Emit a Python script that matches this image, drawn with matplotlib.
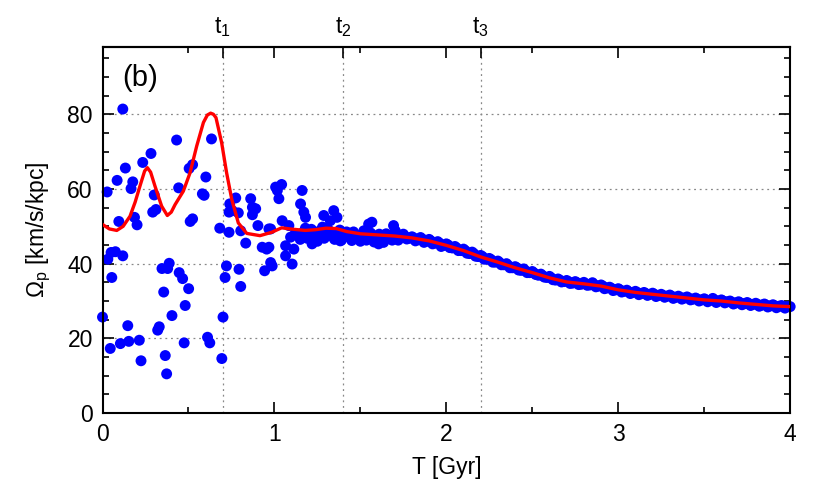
import numpy as np
import matplotlib
matplotlib.use('Agg')
import matplotlib.pyplot as plt
from matplotlib.ticker import MultipleLocator

plt.rcParams['font.family'] = ['Liberation Sans', 'DejaVu Sans']
plt.rcParams['mathtext.fontset'] = 'custom'
plt.rcParams['mathtext.rm'] = 'Liberation Sans'
plt.rcParams['mathtext.it'] = 'Liberation Sans'

# scattered pattern speed measurements (early, noisy phase)
t_early = [0.00, 0.027, 0.031, 0.045, 0.050, 0.054, 0.075, 0.085, 0.095, 0.104,
           0.118, 0.118, 0.133, 0.147, 0.153, 0.166, 0.176, 0.186, 0.201, 0.214,
           0.224, 0.234, 0.282, 0.292, 0.301, 0.311, 0.321, 0.330, 0.346, 0.356,
           0.365, 0.373, 0.379, 0.388, 0.404, 0.431, 0.443, 0.446, 0.466, 0.475,
           0.481, 0.501, 0.504, 0.510, 0.524, 0.524, 0.581, 0.591, 0.601, 0.611,
           0.624, 0.634, 0.682, 0.694, 0.701, 0.713, 0.721, 0.736, 0.736, 0.740,
           0.755, 0.775, 0.790, 0.794, 0.804, 0.804, 0.833, 0.862, 0.872, 0.872,
           0.891, 0.904, 0.929, 0.943, 0.955, 0.968, 0.968, 0.978, 0.978, 0.987,
           1.007, 1.017, 1.026, 1.042, 1.045, 1.065, 1.065, 1.084, 1.094, 1.103,
           1.113, 1.142, 1.152, 1.161, 1.171, 1.181, 1.210, 1.219, 1.268, 1.287,
           1.325, 1.345, 1.364, 1.383, 1.451, 1.548, 1.567, 1.606, 1.635, 1.693,
           1.703]
om_early = [25.7, 59.2, 41.2, 17.3, 43.0, 36.3, 43.2, 62.3, 51.3, 18.6,
            81.4, 42.1, 65.6, 23.4, 19.2, 60.1, 61.9, 52.4, 50.4, 19.5,
            14.0, 67.1, 69.5, 53.8, 58.4, 54.5, 22.2, 23.1, 38.7, 32.4,
            15.4, 10.5, 38.7, 40.1, 26.1, 73.1, 60.3, 37.6, 36.0, 18.8,
            28.8, 33.3, 65.5, 51.3, 66.5, 52.0, 58.7, 58.3, 63.2, 20.3,
            18.8, 73.4, 49.5, 14.6, 25.7, 36.3, 39.4, 53.8, 48.4, 56.0,
            54.2, 57.6, 53.6, 38.5, 48.8, 33.9, 45.5, 57.4, 55.1, 53.1,
            54.7, 50.2, 44.4, 38.1, 43.9, 49.3, 44.4, 49.3, 40.3, 39.4,
            60.5, 59.6, 57.4, 61.2, 51.5, 44.8, 42.1, 50.2, 47.1, 39.9,
            43.9, 47.5, 56.0, 59.6, 53.8, 52.4, 46.6, 45.3, 47.9, 52.9,
            51.5, 54.2, 52.4, 46.1, 46.6, 50.6, 51.1, 45.3, 45.7, 50.2,
            48.8]

# settled phase: points hugging the mean curve
t_band = [1.12, 1.15, 1.18, 1.20, 1.23, 1.25, 1.28, 1.30, 1.33, 1.35,
          1.38, 1.40, 1.42, 1.45, 1.47, 1.50, 1.52, 1.55, 1.58, 1.60,
          1.62, 1.65, 1.67, 1.70, 1.72, 1.75, 1.77, 1.80, 1.82, 1.85,
          1.87, 1.90, 1.92, 1.95, 1.97, 2.00, 2.02, 2.05, 2.07, 2.10,
          2.12, 2.15, 2.17, 2.20, 2.22, 2.25, 2.27, 2.30, 2.32, 2.35,
          2.37, 2.40, 2.42, 2.45, 2.47, 2.50, 2.52, 2.55, 2.57, 2.60,
          2.62, 2.65, 2.67, 2.70, 2.72, 2.75, 2.77, 2.80, 2.82, 2.85,
          2.87, 2.90, 2.92, 2.95, 2.97, 3.00, 3.02, 3.05, 3.07, 3.10,
          3.12, 3.15, 3.17, 3.20, 3.22, 3.25, 3.27, 3.30, 3.32, 3.35,
          3.37, 3.40, 3.42, 3.45, 3.47, 3.50, 3.52, 3.55, 3.57, 3.60,
          3.62, 3.65, 3.67, 3.70, 3.72, 3.75, 3.77, 3.80, 3.82, 3.85,
          3.87, 3.90, 3.92, 3.95, 3.97, 4.00]
om_band = [48.0, 46.5, 49.5, 47.0, 48.5, 46.0, 49.8, 47.5, 48.0, 46.5,
           49.0, 47.0, 48.5, 46.2, 47.8, 46.0, 48.8, 47.0, 45.8, 47.5,
           46.5, 48.0, 46.8, 47.8, 46.3, 47.9, 46.6, 47.2, 46.1, 47.0,
           45.7, 46.5, 45.3, 45.9, 44.6, 45.3, 44.3, 44.6, 43.5, 43.9,
           42.8, 43.1, 42.0, 42.2, 41.2, 41.4, 40.4, 40.7, 39.7, 40.0,
           38.9, 39.2, 38.3, 38.6, 37.6, 37.9, 37.1, 37.2, 36.4, 36.6,
           35.7, 35.9, 35.1, 35.5, 34.7, 35.2, 34.4, 35.0, 34.2, 34.9,
           33.8, 34.3, 33.3, 33.7, 32.8, 33.3, 32.4, 32.9, 32.0, 32.6,
           31.7, 32.3, 31.5, 32.1, 31.2, 31.8, 31.0, 31.6, 30.7, 31.3,
           30.5, 31.1, 30.3, 30.8, 30.0, 30.6, 29.8, 30.7, 29.6, 30.3,
           29.5, 30.0, 29.2, 29.8, 29.0, 29.6, 28.8, 29.4, 28.6, 29.2,
           28.4, 29.0, 28.2, 28.8, 28.1, 28.5]

# more settled-phase points between the ones above
t_band2 = [1.135, 1.165, 1.19, 1.215, 1.24, 1.265, 1.29, 1.315, 1.34, 1.365,
           1.39, 1.41, 1.435, 1.46, 1.485, 1.51, 1.535, 1.56, 1.585, 1.61,
           1.635, 1.66, 1.685, 1.71, 1.735, 1.76, 1.785, 1.81, 1.835, 1.86,
           1.885, 1.91, 1.935, 1.96, 1.985, 2.01, 2.035, 2.06, 2.085, 2.11,
           2.135, 2.16, 2.185, 2.21, 2.235, 2.26, 2.285, 2.31, 2.335, 2.36,
           2.385, 2.41, 2.435, 2.46, 2.485, 2.51, 2.535, 2.56, 2.585, 2.61,
           2.635, 2.66, 2.685, 2.71, 2.735, 2.76, 2.785, 2.81, 2.835, 2.86,
           2.885, 2.91, 2.935, 2.96, 2.985, 3.01, 3.035, 3.06, 3.085, 3.11,
           3.135, 3.16, 3.185, 3.21, 3.235, 3.26, 3.285, 3.31, 3.335, 3.36,
           3.385, 3.41, 3.435, 3.46, 3.485, 3.51, 3.535, 3.56, 3.585, 3.61,
           3.635, 3.66, 3.685, 3.71, 3.735, 3.76, 3.785, 3.81, 3.835, 3.86,
           3.885, 3.91, 3.935, 3.96, 3.985]
om_band2 = [47.8, 48.3, 46.8, 49.2, 47.5, 48.8, 46.8, 49.0, 47.2, 48.2,
            46.3, 48.0, 47.2, 48.5, 46.8, 47.5, 46.3, 48.2, 46.8, 47.9,
            46.4, 47.2, 46.3, 47.4, 47.2, 47.3, 46.8, 46.9, 46.4, 46.6,
            46.0, 46.1, 45.5, 45.5, 44.9, 45.0, 44.2, 44.2, 43.5, 43.5,
            42.7, 42.7, 41.9, 41.9, 41.2, 41.1, 40.4, 40.3, 39.7, 39.5,
            38.9, 38.9, 38.2, 38.1, 37.6, 37.5, 36.9, 36.8, 36.3, 36.2,
            35.6, 35.6, 35.2, 35.2, 34.8, 34.9, 34.5, 34.6, 34.3, 34.4,
            34.0, 34.0, 33.5, 33.4, 33.0, 33.0, 32.6, 32.5, 32.3, 32.3,
            32.0, 32.0, 31.8, 31.8, 31.5, 31.5, 31.3, 31.3, 31.0, 31.0,
            30.8, 30.8, 30.5, 30.5, 30.3, 30.3, 30.2, 30.3, 30.0, 30.0,
            29.8, 29.7, 29.5, 29.5, 29.3, 29.3, 29.1, 29.1, 28.9, 28.9,
            28.7, 28.7, 28.6, 28.5, 28.5]

# smoothed curve
t_fit = [0.000, 0.040, 0.083, 0.120, 0.160, 0.190, 0.218, 0.245, 0.261, 0.280,
         0.305, 0.344, 0.377, 0.400, 0.422, 0.470, 0.509, 0.548, 0.587, 0.610,
         0.629, 0.645, 0.660, 0.693, 0.722, 0.752, 0.790, 0.839, 0.916, 0.984,
         1.042, 1.090, 1.180, 1.240, 1.300, 1.360, 1.420, 1.500, 1.600, 1.700,
         1.800, 1.900, 2.000, 2.100, 2.200, 2.300, 2.400, 2.500, 2.600, 2.700,
         2.800, 2.900, 3.000, 3.100, 3.200, 3.300, 3.400, 3.500, 3.600, 3.700,
         3.800, 3.900, 4.000]
om_fit = [50.5, 49.3, 48.9, 50.0, 52.7, 56.5, 60.8, 64.8, 65.7, 64.5,
          60.8, 55.4, 52.9, 53.8, 55.8, 59.4, 64.3, 71.5, 77.8, 79.8,
          80.3, 80.0, 79.1, 72.4, 64.3, 57.2, 50.9, 48.1, 47.5, 48.4,
          49.6, 49.3, 48.9, 49.1, 49.5, 49.4, 48.6, 48.0, 47.7, 47.4,
          46.9, 46.1, 44.9, 43.5, 41.8, 40.4, 38.9, 37.6, 36.2, 35.1,
          34.6, 34.0, 33.0, 32.3, 31.8, 31.3, 30.8, 30.3, 30.0, 29.5,
          29.1, 28.7, 28.5]

t_marks = [0.7, 1.4, 2.2]
t_names = ['t$_1$', 't$_2$', 't$_3$']

fig = plt.figure(figsize=(8.3, 4.9), dpi=100)
ax = fig.add_axes([0.1235, 0.157, 0.8285, 0.747])

for y in [20, 40, 60, 80]:
    ax.axhline(y, color='#888888', ls=(0, (1.5, 3)), lw=0.9, zorder=0)
for t in t_marks:
    ax.axvline(t, color='#888888', ls=(0, (1.5, 3)), lw=0.9, zorder=0)

ax.scatter(t_early + t_band + t_band2, om_early + om_band + om_band2, s=62,
           color='#0000ff', edgecolors='none', zorder=2, clip_on=False)
ax.plot(t_fit, om_fit, color='#ff0000', lw=2.4, zorder=3)

ax.set_xlim(0, 4)
ax.set_ylim(0, 98)
ax.xaxis.set_major_locator(MultipleLocator(1))
ax.xaxis.set_minor_locator(MultipleLocator(0.5))
ax.yaxis.set_major_locator(MultipleLocator(20))
ax.yaxis.set_minor_locator(MultipleLocator(5))
ax.tick_params(which='both', direction='in', right=True, labelsize=16.5, width=1.2)
ax.tick_params(which='major', length=8, pad=7)
ax.tick_params(which='minor', length=4)
ax.tick_params(axis='x', top=False, which='both')
for s in ax.spines.values():
    s.set_linewidth(1.5)

top = ax.secondary_xaxis('top')
top.set_xticks([1, 2, 3] + t_marks, labels=['', '', ''] + t_names)
top.xaxis.set_minor_locator(MultipleLocator(0.5))
top.tick_params(which='both', direction='in', labelsize=16.5, width=1.2, pad=6)
top.tick_params(which='major', length=8)
top.tick_params(which='minor', length=4)
top.spines['top'].set_linewidth(1.5)

ax.set_xlabel('T [Gyr]', fontsize=16.5, labelpad=7)
ax.set_ylabel('$\\Omega_p$ [km/s/kpc]', fontsize=16.5, labelpad=10)
ax.text(0.028, 0.915, '(b)', transform=ax.transAxes, fontsize=21, va='center')

fig.savefig('out.png', dpi=100)
